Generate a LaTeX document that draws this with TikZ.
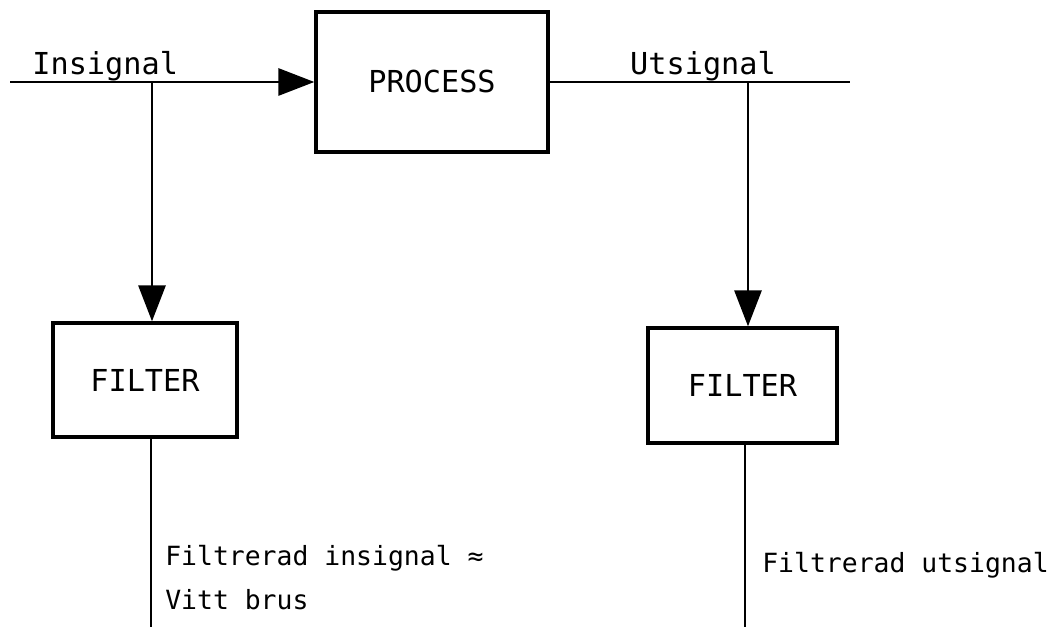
\documentclass[tikz,border=0pt]{standalone}
\usepackage{fontspec}
\setmonofont{DejaVu Sans Mono}
\usetikzlibrary{%
  arrows.meta,%
  positioning%
}
\tikzset{>={Triangle[length=0.9cm,width=0.68cm]}}
\tikzset{
  blockbox/.style={draw,line width=2.4pt,font=\ttfamily\fontsize{21.5}{26}\selectfont},
  sigline/.style={line width=1.7pt},
  siglabel/.style={font=\ttfamily\fontsize{21.5}{26}\selectfont,inner sep=0pt,anchor=base},
  outlabel/.style={font=\ttfamily\fontsize{18.8}{26}\selectfont,inner sep=0pt,anchor=base west}
}

\begin{document}
\begin{tikzpicture}
        \useasboundingbox (0,0) rectangle (26.3cm,15.675cm);
        \node[blockbox,minimum width=5.8cm,minimum height=3.5cm] (process)
        at (10.8cm,13.625cm) {PROCESS};
        \node[blockbox,minimum width=4.6cm,minimum height=2.85cm] (filtin)
        at (3.625cm,6.175cm) {FILTER};
        \node[blockbox,minimum width=4.725cm,minimum height=2.875cm] (filtout)
        at (18.5625cm,6.0375cm) {FILTER};
        \coordinate (insrc) at (0.25cm,13.625cm);
        \coordinate (insplit) at (3.8cm,13.625cm);
        \coordinate (outsplit) at (18.7cm,13.625cm);
        \coordinate (outend) at (21.25cm,13.625cm);
        \coordinate (inbot) at (3.78cm,0);
        \coordinate (outbot) at (18.625cm,0);
        \draw[sigline,->] (insrc) -- (process.west);
        \draw[sigline] (process.east) -- (outend);
        \draw[sigline,->] (insplit) -- (insplit |- filtin.north);
        \draw[sigline,->] (outsplit) -- (outsplit |- filtout.north);
        \draw[sigline] (inbot |- filtin.south) -- (inbot);
        \draw[sigline] (outbot |- filtout.south) -- (outbot);
        \node[siglabel] (inlbl) at (2.63cm,13.8cm) {Insignal};
        \node[siglabel] (outlbl) at (17.575cm,13.8cm) {Utsignal};
        \node[outlabel] (filtinlbl) at (4.125cm,1.525cm) {Filtrerad insignal ≈};
        \node[outlabel] (noiselbl) at (4.125cm,0.45cm) {Vitt brus};
        \node[outlabel] (filtoutlbl) at (19.05cm,1.35cm) {Filtrerad utsignal};
      \end{tikzpicture}
\end{document}
